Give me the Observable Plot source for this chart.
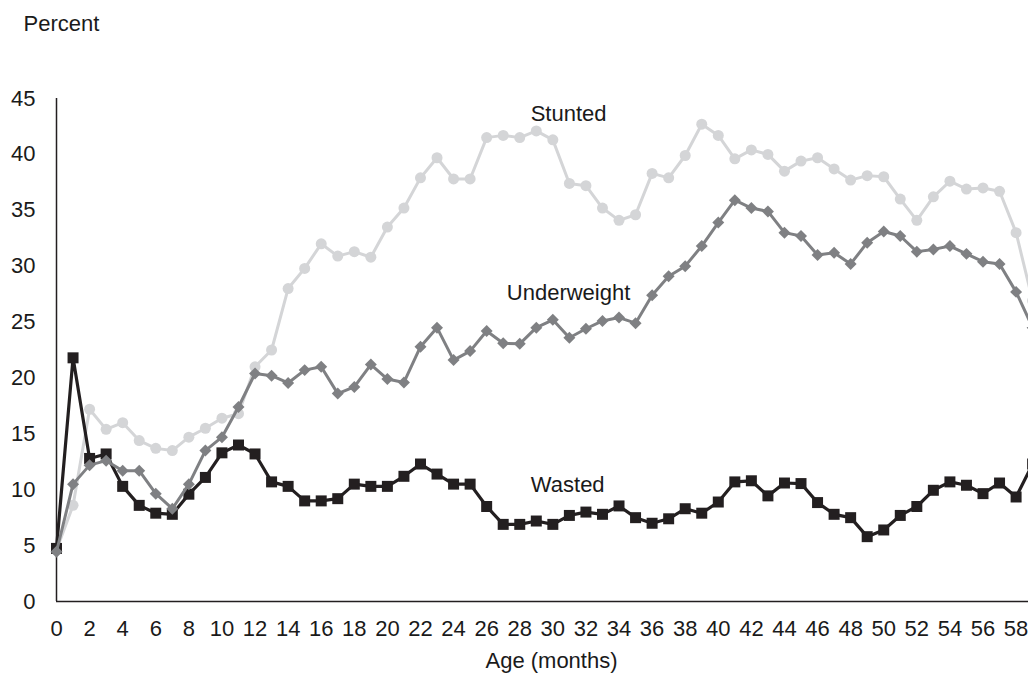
<!DOCTYPE html>
<html>
<head>
<meta charset="utf-8">
<script src="https://cdn.jsdelivr.net/npm/d3@7"></script>
<script src="https://cdn.jsdelivr.net/npm/@observablehq/plot@0.6"></script>
<style>
  html, body { margin: 0; padding: 0; background: #fff; overflow: hidden; }
  #chart svg { display: block; }
</style>
</head>
<body>
<div id="chart"></div>
<script>
const months = [0,1,2,3,4,5,6,7,8,9,10,11,12,13,14,15,16,17,18,19,20,21,22,23,24,25,26,27,28,29,
  30,31,32,33,34,35,36,37,38,39,40,41,42,43,44,45,46,47,48,49,50,51,52,53,54,55,56,57,58,59];
const stunted = [4.6,8.6,17.2,15.4,16.0,14.4,13.7,13.5,14.7,15.5,16.4,16.8,21.0,22.5,28.0,29.8,32.0,30.9,31.3,30.8,
  33.5,35.2,37.9,39.7,37.8,37.8,41.5,41.7,41.5,42.1,41.3,37.4,37.2,35.2,34.1,34.6,38.3,37.9,39.9,42.7,
  41.7,39.6,40.4,40.0,38.5,39.4,39.7,38.7,37.7,38.1,38.0,36.0,34.1,36.2,37.6,36.9,37.0,36.7,33.0,26.9];
const underweight = [4.45,10.5,12.2,12.6,11.7,11.7,9.65,8.3,10.5,13.5,14.7,17.4,20.4,20.2,19.55,20.7,21.0,18.6,19.2,21.2,
  19.9,19.6,22.8,24.5,21.6,22.4,24.2,23.1,23.05,24.5,25.2,23.6,24.4,25.1,25.4,24.9,27.4,29.1,30.0,31.8,
  33.9,35.9,35.2,34.9,33.0,32.7,31.0,31.2,30.2,32.1,33.1,32.7,31.3,31.5,31.8,31.1,30.4,30.2,27.7,24.5];
const wasted = [4.75,21.8,12.8,13.2,10.3,8.6,7.9,7.8,9.6,11.1,13.3,14.0,13.2,10.7,10.3,9.0,9.0,9.2,10.5,10.3,
  10.3,11.2,12.3,11.4,10.5,10.5,8.5,6.9,6.9,7.2,6.9,7.7,8.0,7.8,8.55,7.5,7.0,7.4,8.3,7.9,
  8.9,10.7,10.8,9.45,10.6,10.55,8.85,7.8,7.5,5.8,6.4,7.7,8.5,9.95,10.7,10.4,9.65,10.6,9.35,12.3];
const seriesNames = ["Stunted", "Underweight", "Wasted"];
const xTicks = [0,2,4,6,8,10,12,14,16,18,20,22,24,26,28,30,32,34,36,38,40,42,44,46,48,50,52,54,56,58];
const yTicks = [0,5,10,15,20,25,30,35,40,45];
const yTitle = "Percent";
const xTitle = "Age (months)";

const rows = (name, vals) => months.map((m, i) => ({series: name, month: m, value: vals[i]}));
const S = rows("Stunted", stunted);
const U = rows("Underweight", underweight);
const W = rows("Wasted", wasted);

const colStunted = "#d4d5d7", colUnder = "#7f8083", colWasted = "#231f20";
const labelData = [
  {t: seriesNames[0], x: 30.95, y: 43.6},
  {t: seriesNames[1], x: 30.95, y: 27.6},
  {t: seriesNames[2], x: 30.9, y: 10.4}
];

const plot = Plot.plot({
  width: 1028,
  height: 675,
  marginTop: 98,
  marginBottom: 74,
  marginLeft: 56,
  marginRight: 0,
  style: {fontFamily: "'Liberation Sans', Arial, sans-serif", fontSize: "22px", color: "#1a1a1a", background: "#fff", overflow: "hidden"},
  x: {domain: [0, 58.75]},
  y: {domain: [0, 45]},
  marks: [
    Plot.axisY({ticks: yTicks, tickSize: 0, tickPadding: 21, label: null, fontSize: 22}),
    Plot.axisX({ticks: xTicks, tickSize: 0, tickPadding: 19, label: null, fontSize: 22, tickFormat: d => String(d)}),
    Plot.ruleX([0], {stroke: "#231f20", strokeWidth: 1.5}),
    Plot.ruleY([0], {stroke: "#231f20", strokeWidth: 1.5}),
    Plot.line(S, {x: "month", y: "value", stroke: colStunted, strokeWidth: 3}),
    Plot.dot(S, {x: "month", y: "value", fill: colStunted, r: 5.5, symbol: "circle"}),
    Plot.line(W, {x: "month", y: "value", stroke: colWasted, strokeWidth: 3.2}),
    Plot.dot(W, {x: "month", y: "value", fill: colWasted, r: 6.2, symbol: "square"}),
    Plot.line(U, {x: "month", y: "value", stroke: colUnder, strokeWidth: 3}),
    Plot.dot(U, {x: "month", y: "value", fill: colUnder, r: 5.4, symbol: "diamond2"}),
    Plot.text(labelData, {x: "x", y: "y", text: "t", fontSize: 22, fill: "#1a1a1a"}),
    Plot.text([yTitle], {frameAnchor: "top-left", textAnchor: "start", lineAnchor: "middle", dx: -33, dy: -75, fontSize: 22, fill: "#1a1a1a"}),
    Plot.text([xTitle], {frameAnchor: "bottom", lineAnchor: "middle", dx: 9, dy: 59, fontSize: 22, fill: "#1a1a1a"})
  ]
});
document.getElementById("chart").appendChild(plot);
</script>
</body>
</html>
